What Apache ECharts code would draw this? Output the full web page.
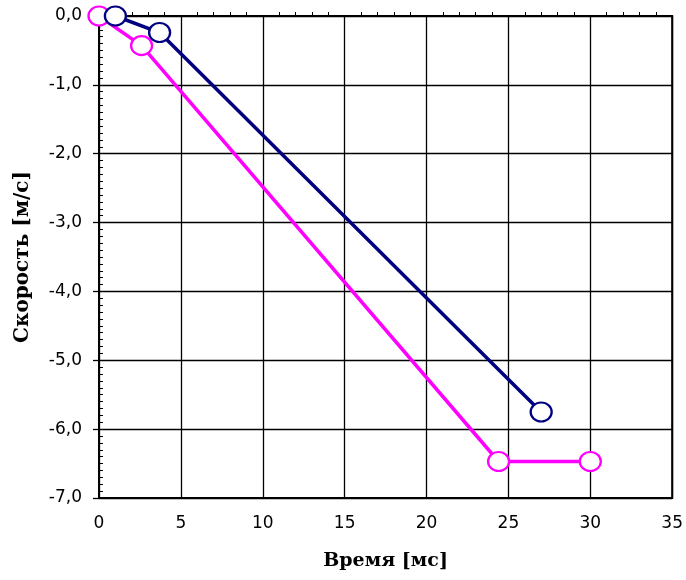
<!DOCTYPE html>
<html>
<head>
<meta charset="utf-8">
<script src="https://cdn.jsdelivr.net/npm/echarts@6/dist/echarts.min.js"></script>
<style>
  html, body { margin: 0; padding: 0; background: #fff; }
  #chart { width: 686px; height: 580px; }
</style>
</head>
<body>
<div id="chart"></div>
<script>
  // values
  let timeNavy = [1.0, 3.7, 27.0]
  let speedNavy = [0.0, -0.24, -5.75]
  let timePink = [0.0, 2.6, 24.4, 30.0]
  let speedPink = [0.0, -0.43, -6.47, -6.47]

  let xTitle = 'Время [мс]'
  let yTitle = 'Скорость [м/с]'

  let toPairs = (xs, ys) => xs.map((x, i) => [x, ys[i]])
  let fmt = v => v.toFixed(1).replace('.', ',')

  let myChart = echarts.init(document.getElementById('chart'))
  let labelFont = { color: '#000', fontSize: 17, fontFamily: 'DejaVu Sans' }
  let titleFont = { color: '#000', fontSize: 19, fontWeight: 'bold', fontFamily: 'DejaVu Serif' }
  let gridLine = { show: true, lineStyle: { color: '#000', width: 1.3 } }

  let option = {
    backgroundColor: '#fff',
    animation: false,
    grid: { left: 99, right: 13, top: 16, bottom: 82, show: true, borderColor: '#000', borderWidth: 2 },
    xAxis: [
      {
        type: 'value', min: 0, max: 35, interval: 5, position: 'bottom',
        name: xTitle, nameLocation: 'middle', nameGap: 54, nameTextStyle: titleFont,
        axisLine: { show: false },
        axisTick: { show: false },
        axisLabel: Object.assign({ margin: 17 }, labelFont),
        splitLine: gridLine
      },
      {
        type: 'value', min: 0, max: 35, interval: 5, position: 'top',
        axisLine: { show: false },
        axisTick: { show: false },
        axisLabel: { show: false },
        minorTick: { show: true, splitNumber: 5, length: 4, lineStyle: { color: '#000', width: 1 } },
        splitLine: { show: false }
      }
    ],
    yAxis: [
      {
        type: 'value', min: -7, max: 0, interval: 1,
        name: yTitle, nameLocation: 'middle', nameGap: 66,
        nameTextStyle: Object.assign({}, titleFont, { fontSize: 20 }),
        axisLine: { show: true, lineStyle: { color: '#000', width: 2 } },
        axisTick: { show: true, length: 6, lineStyle: { color: '#000', width: 1.3 } },
        axisLabel: Object.assign({ margin: 17, formatter: fmt }, labelFont),
        splitLine: gridLine
      },
      {
        type: 'value', min: -7, max: 0, interval: 1, position: 'left',
        axisLine: { show: false },
        axisTick: { show: false, inside: true },
        axisLabel: { show: false },
        minorTick: { show: true, splitNumber: 10, length: 4, lineStyle: { color: '#000', width: 1 } },
        splitLine: { show: false }
      }
    ],
    series: [
      {
        type: 'line',
        data: toPairs(timePink, speedPink),
        clip: false,
        symbol: 'circle',
        symbolSize: [21, 19],
        lineStyle: { color: '#ff00ff', width: 3.5 },
        itemStyle: { color: '#fff', borderColor: '#ff00ff', borderWidth: 2.2 }
      },
      {
        type: 'line',
        data: toPairs(timeNavy, speedNavy),
        clip: false,
        symbol: 'circle',
        symbolSize: [21, 19],
        lineStyle: { color: '#000080', width: 3.5 },
        itemStyle: { color: '#fff', borderColor: '#000080', borderWidth: 2.2 }
      }
    ]
  }
  myChart.setOption(option)
</script>
</body>
</html>
